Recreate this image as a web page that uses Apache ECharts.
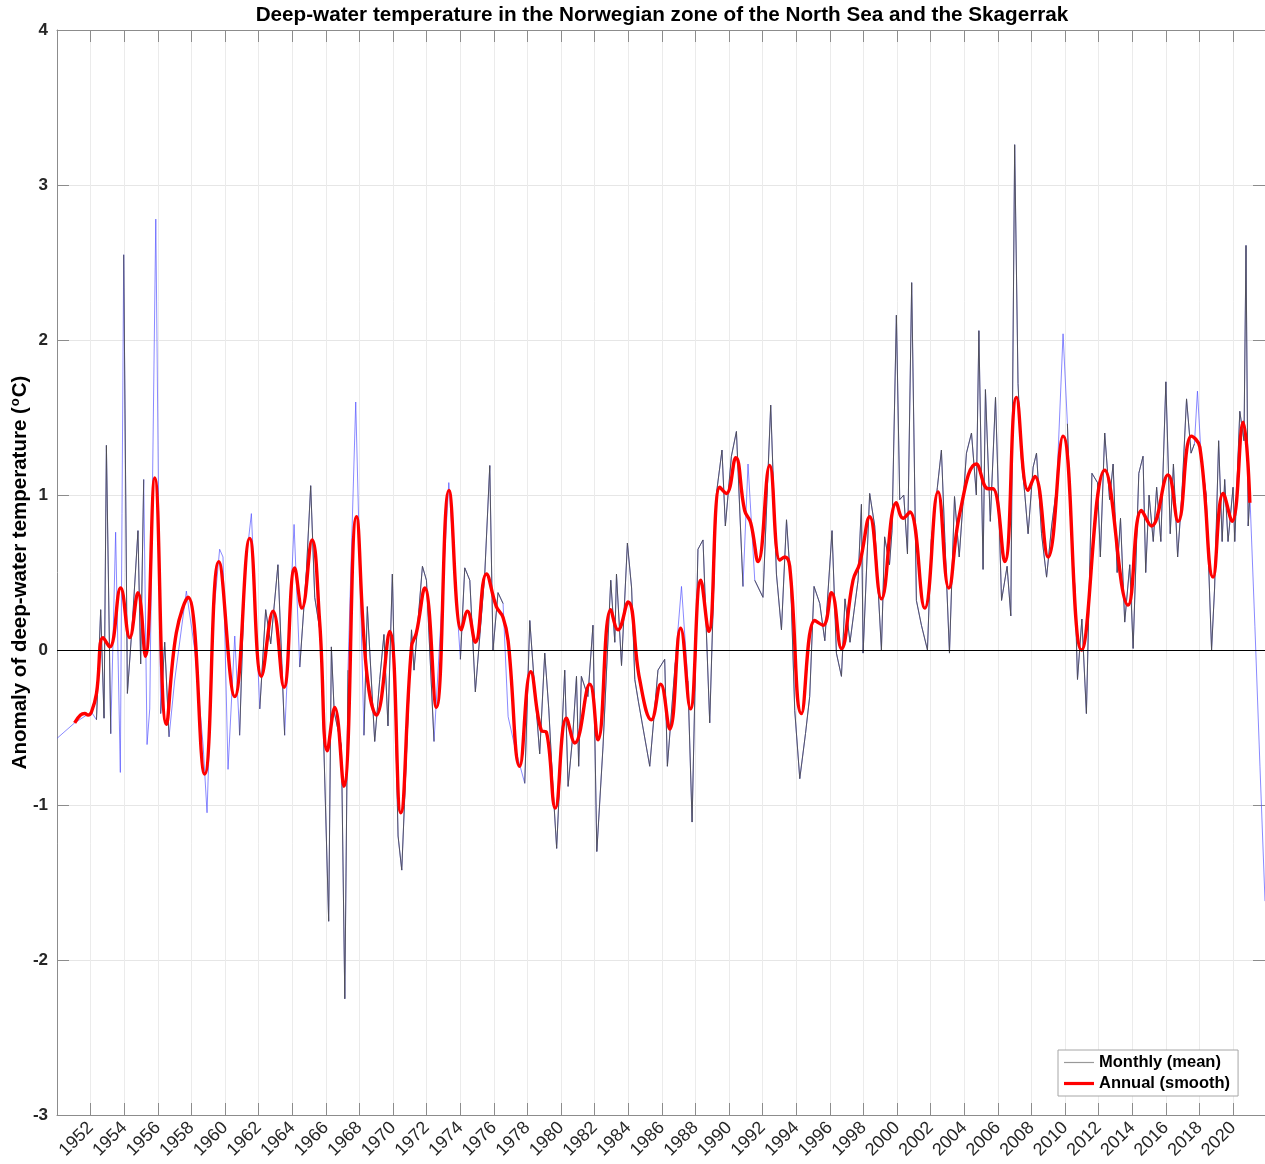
<!DOCTYPE html>
<html>
<head>
<meta charset="utf-8">
<title>Deep-water temperature</title>
<script src="https://cdn.jsdelivr.net/npm/echarts@6.0.0/dist/echarts.min.js"></script>
<style>
  html, body { margin: 0; padding: 0; background: #fff; }
  #graph { width: 1265px; height: 1164px; }
</style>
</head>
<body>
<div id="graph"></div>
<script>
// annual (smooth) anomaly
const annualYears = [
  1951.05, 1951.4, 1951.65, 1951.85, 1952.05, 1952.35, 1952.74, 1953.14, 1953.79, 1954.33,
  1954.82, 1955.26, 1955.82, 1956.51, 1957.1, 1957.8, 1958.79, 1959.63, 1960.58, 1961.47,
  1962.17, 1962.86, 1963.51, 1964.15, 1964.58, 1965.18, 1965.64, 1966.09, 1966.53, 1967.07,
  1967.82, 1968.42, 1969.01, 1969.8, 1970.46, 1971.1, 1971.39, 1971.89, 1972.58, 1973.33,
  1974.07, 1974.43, 1974.9, 1975.56, 1976.15, 1976.55, 1976.85, 1977.54, 1978.2, 1978.83,
  1979.13, 1979.66, 1980.32, 1980.82, 1981.71, 1982.2, 1982.96, 1983.39, 1983.99, 1984.68,
  1985.38, 1985.93, 1986.47, 1987.12, 1987.7, 1988.32, 1988.79, 1989.45, 1989.84, 1990.4,
  1990.93, 1991.29, 1991.73, 1992.42, 1993.02, 1993.32, 1993.61, 1994.31, 1995.1, 1995.6,
  1996.1, 1996.69, 1997.38, 1997.78, 1998.37, 1999.07, 1999.96, 2000.36, 2000.76, 2001.65,
  2002.44, 2003.08, 2003.73, 2004.72, 2005.42, 2005.71, 2006.41, 2007.11, 2007.8, 2008.2,
  2008.99, 2009.88, 2010.98, 2012.36, 2013.75, 2014.55, 2015.14, 2016.13, 2016.73, 2017.52,
  2018.02, 2018.81, 2019.41, 2019.94, 2020.6, 2021.0
];
const annualValues = [
  -0.47, -0.42, -0.41, -0.42, -0.40, -0.28, 0.08, 0.02, 0.40, 0.08,
  0.37, -0.04, 1.11, -0.48, 0.11, 0.34, -0.80, 0.57, -0.30, 0.72,
  -0.17, 0.25, -0.24, 0.53, 0.27, 0.71, 0.17, -0.65, -0.37, -0.88,
  0.86, -0.13, -0.42, 0.12, -1.05, 0.02, 0.11, 0.40, -0.37, 1.03,
  0.13, 0.25, 0.05, 0.49, 0.28, 0.21, 0.06, -0.75, -0.14, -0.52,
  -0.53, -1.02, -0.44, -0.60, -0.22, -0.58, 0.26, 0.13, 0.31, -0.19,
  -0.45, -0.22, -0.51, 0.14, -0.38, 0.45, 0.12, 1.05, 1.01, 1.24,
  0.90, 0.82, 0.57, 1.19, 0.58, 0.60, 0.54, -0.41, 0.19, 0.16,
  0.37, 0.01, 0.45, 0.56, 0.86, 0.33, 0.95, 0.85, 0.89, 0.27,
  1.02, 0.40, 0.88, 1.20, 1.04, 1.04, 0.57, 1.63, 1.03, 1.12,
  0.60, 1.38, 0.00, 1.16, 0.29, 0.90, 0.80, 1.13, 0.83, 1.38,
  1.31, 0.47, 1.01, 0.83, 1.47, 0.95
];

// monthly (mean) anomaly, peaks and troughs
const monthlyYears = [
  1950.0, 1951.05, 1952.05, 1952.35, 1952.6, 1952.8, 1952.94, 1953.2, 1953.49, 1953.77,
  1953.97, 1954.19, 1954.5, 1954.82, 1954.98, 1955.16, 1955.36, 1955.52, 1955.88, 1956.17,
  1956.41, 1956.67, 1957.0, 1957.7, 1958.2, 1958.7, 1958.93, 1959.3, 1959.68, 1959.88,
  1960.18, 1960.58, 1960.87, 1961.17, 1961.57, 1962.07, 1962.42, 1962.72, 1963.15, 1963.55,
  1964.11, 1964.45, 1964.85, 1965.1, 1965.34, 1965.7, 1966.17, 1966.33, 1966.5, 1966.93,
  1967.13, 1967.32, 1967.78, 1968.27, 1968.47, 1968.91, 1969.21, 1969.46, 1969.7, 1969.96,
  1970.3, 1970.52, 1970.9, 1971.1, 1971.25, 1971.75, 1971.99, 1972.44, 1973.32, 1974.01,
  1974.27, 1974.57, 1974.9, 1975.46, 1975.76, 1975.95, 1976.25, 1976.55, 1976.85, 1977.24,
  1977.84, 1978.14, 1978.4, 1978.73, 1979.03, 1979.27, 1979.5, 1979.74, 1980.22, 1980.42,
  1980.7, 1980.92, 1981.05, 1981.21, 1981.6, 1981.9, 1982.13, 1982.5, 1982.96, 1983.2,
  1983.3, 1983.6, 1983.95, 1984.2, 1984.39, 1984.6, 1985.28, 1985.77, 1986.17, 1986.33,
  1986.8, 1987.17, 1987.55, 1987.8, 1988.15, 1988.45, 1988.85, 1989.25, 1989.58, 1989.78,
  1990.14, 1990.44, 1990.83, 1991.13, 1991.53, 1992.02, 1992.48, 1992.82, 1993.12, 1993.42,
  1993.67, 1993.91, 1994.21, 1994.55, 1994.8, 1995.06, 1995.4, 1995.7, 1996.13, 1996.39,
  1996.69, 1996.9, 1997.2, 1997.68, 1997.88, 1997.98, 1998.37, 1998.67, 1999.07, 1999.26,
  1999.55, 1999.7, 1999.96, 2000.16, 2000.4, 2000.62, 2000.87, 2001.15, 2001.45, 2001.81,
  2002.04, 2002.4, 2002.64, 2002.85, 2003.12, 2003.42, 2003.7, 2004.13, 2004.43, 2004.72,
  2004.87, 2005.12, 2005.26, 2005.55, 2005.86, 2006.22, 2006.55, 2006.77, 2007.0, 2007.2,
  2007.4, 2007.6, 2007.8, 2008.1, 2008.3, 2008.6, 2008.9, 2009.2, 2009.5, 2009.88,
  2010.14, 2010.3, 2010.59, 2010.74, 2011.0, 2011.27, 2011.4, 2011.6, 2011.93, 2012.1,
  2012.36, 2012.65, 2012.86, 2013.1, 2013.3, 2013.55, 2013.85, 2014.05, 2014.39, 2014.64,
  2014.8, 2015.0, 2015.25, 2015.45, 2015.7, 2016.0, 2016.26, 2016.45, 2016.7, 2016.95,
  2017.23, 2017.5, 2017.7, 2017.88, 2018.1, 2018.4, 2018.72, 2018.9, 2019.14, 2019.35,
  2019.5, 2019.7, 2020.0, 2020.1, 2020.4, 2020.65, 2020.77, 2020.9, 2021.0, 2021.3,
  2021.6, 2021.9
];
const monthlyValues = [
  -0.57, -0.47, -0.40, -0.45, 0.26, -0.44, 1.32, -0.54, 0.76, -0.79,
  2.55, -0.28, 0.20, 0.77, -0.09, 1.10, -0.61, -0.38, 2.78, -0.41,
  0.05, -0.56, -0.20, 0.38, 0.00, -0.62, -1.05, 0.20, 0.65, 0.60,
  -0.77, 0.09, -0.55, 0.49, 0.88, -0.38, 0.26, 0.04, 0.55, -0.55,
  0.81, -0.11, 0.52, 1.06, 0.34, 0.09, -1.75, 0.02, -0.40, -0.62,
  -2.25, -0.13, 1.60, -0.55, 0.28, -0.59, -0.19, 0.10, -0.49, 0.49,
  -1.20, -1.42, -0.41, 0.13, -0.13, 0.54, 0.45, -0.59, 1.08, -0.06,
  0.53, 0.45, -0.27, 0.49, 1.19, 0.00, 0.37, 0.30, -0.43, -0.62,
  -0.86, 0.19, -0.20, -0.67, -0.02, -0.38, -0.85, -1.28, -0.13, -0.88,
  -0.55, -0.17, -0.75, -0.17, -0.30, 0.16, -1.30, -0.62, 0.45, 0.05,
  0.49, -0.10, 0.69, 0.40, -0.19, -0.33, -0.75, -0.13, -0.06, -0.75,
  -0.08, 0.41, -0.20, -1.11, 0.65, 0.71, -0.47, 1.01, 1.29, 0.80,
  1.25, 1.41, 0.41, 1.20, 0.45, 0.34, 1.58, 0.49, 0.13, 0.84,
  0.43, -0.39, -0.83, -0.54, -0.30, 0.41, 0.30, 0.06, 0.77, -0.02,
  -0.17, 0.33, 0.05, 0.45, 0.94, -0.02, 1.01, 0.80, 0.00, 0.73,
  0.55, 0.77, 2.16, 0.97, 1.00, 0.62, 2.37, 0.32, 0.16, 0.00,
  0.71, 1.05, 1.29, 0.70, -0.02, 0.99, 0.60, 1.27, 1.40, 1.00,
  2.06, 0.52, 1.68, 0.83, 1.63, 0.32, 0.54, 0.22, 3.26, 1.72,
  1.23, 1.01, 0.75, 1.18, 1.27, 0.75, 0.47, 0.80, 1.05, 2.04,
  1.46, 0.90, 0.39, -0.19, 0.20, -0.41, 0.20, 1.14, 1.08, 0.60,
  1.40, 0.97, 1.20, 0.50, 0.85, 0.18, 0.55, 0.01, 1.14, 1.25,
  0.50, 1.00, 0.70, 1.05, 0.70, 1.73, 0.75, 1.20, 0.60, 1.00,
  1.62, 1.27, 1.33, 1.67, 1.25, 1.00, 0.00, 0.40, 1.35, 0.70,
  1.10, 0.70, 1.05, 0.70, 1.54, 1.35, 2.61, 0.80, 1.00, 0.15,
  -0.75, -1.62
];

// stretches where only the blue interpolated line shows (no monthly mean)
const gapSpans = [
  [1949, 1952.3], [1953.4, 1953.85], [1955.3, 1956.0], [1956.9, 1958.75],
  [1959.3, 1959.95], [1960.5, 1960.6], [1961.5, 1961.6], [1964.0, 1964.2],
  [1967.7, 1967.85], [1973.25, 1973.4], [1976.8, 1977.3], [1987.1, 1987.25],
  [1991.0, 1991.2], [2009.8, 2009.95], [2017.8, 2017.95], [2021.1, 2022]
];

const xMin = 1950, xMax = 2021.9;

function inGap(t) {
  return gapSpans.some(s => t >= s[0] && t <= s[1]);
}

const interpData = monthlyYears.map((t, i) => [t, monthlyValues[i]]);
const monthlyData = monthlyYears.map((t, i) => inGap(t) ? [t, '-'] : [t, monthlyValues[i]]);
const annualData = annualYears.map((t, i) => [t, annualValues[i]]);

const font = 'Liberation Sans, Arial, sans-serif';
const axisGray = '#8c8c8c';

let myChart = echarts.init(document.getElementById('graph'));
myChart.setOption({
  animation: false,
  backgroundColor: '#fff',
  title: {
    text: 'Deep-water temperature in the Norwegian zone of the North Sea and the Skagerrak',
    left: 662,
    textAlign: 'center',
    top: 0,
    padding: [5, 0, 0, 0],
    textStyle: {
      fontFamily: font,
      fontSize: 20.7,
      fontWeight: 'bold',
      color: '#000'
    }
  },
  legend: {
    data: [
      {name: 'Monthly (mean)', icon: 'path://M0,0L0,0M0,5.4L30,5.4L30,6.6L0,6.6ZM30,12L30,12'},
      {name: 'Annual (smooth)', icon: 'path://M0,0L0,0M0,4.4L30,4.4L30,7.6L0,7.6ZM30,12L30,12'}
    ],
    orient: 'vertical',
    left: 1058,
    top: 1050,
    padding: [4, 8, 4, 6],
    itemGap: 4,
    itemWidth: 30,
    itemHeight: 12,
    backgroundColor: '#fff',
    borderColor: '#a6a6a6',
    borderWidth: 1,
    textStyle: {
      fontFamily: font,
      fontSize: 16.5,
      fontWeight: 'bold',
      color: '#000'
    }
  },
  grid: {
    left: 57,
    right: 0,
    top: 30,
    bottom: 49,
    outerBoundsMode: 'none',
    containLabel: false
  },
  xAxis: [
    {
      type: 'value',
      position: 'bottom',
      min: xMin,
      max: xMax,
      interval: 2,
      axisLine: {show: true, onZero: false, lineStyle: {color: axisGray}},
      axisTick: {show: true, inside: true, length: 12, lineStyle: {color: axisGray}},
      axisLabel: {
        rotate: 45,
        margin: 10,
        fontFamily: font,
        fontSize: 18,
        color: '#262626',
        formatter: function (v) {
          return (v > xMin && v <= 2020) ? String(v) : '';
        }
      },
      splitLine: {show: true, lineStyle: {color: '#ebebeb'}}
    },
    {
      type: 'value',
      position: 'top',
      min: xMin,
      max: xMax,
      interval: 2,
      axisLine: {show: true, onZero: false, lineStyle: {color: axisGray}},
      axisTick: {show: true, inside: true, length: 12, lineStyle: {color: axisGray}},
      axisLabel: {show: false},
      splitLine: {show: false}
    }
  ],
  yAxis: [
    {
      type: 'value',
      position: 'left',
      min: -3,
      max: 4,
      interval: 1,
      name: '{t|Anomaly of deep-water temperature (}{s|o}{t|C)}',
      nameLocation: 'middle',
      nameRotate: 90,
      nameGap: 26,
      nameMoveOverlap: false,
      nameTextStyle: {
        rich: {
          t: {fontFamily: font, fontSize: 20.5, fontWeight: 'bold', color: '#000', lineHeight: 22, verticalAlign: 'bottom'},
          s: {fontFamily: font, fontSize: 13, fontWeight: 'bold', color: '#000', lineHeight: 22, verticalAlign: 'top', padding: [0, 1, 9, 1]}
        }
      },
      axisLine: {show: true, onZero: false, lineStyle: {color: axisGray}},
      axisTick: {show: true, inside: true, length: 12, lineStyle: {color: axisGray}},
      axisLabel: {
        margin: 9,
        fontFamily: font,
        fontSize: 17,
        fontWeight: 'bold',
        color: '#262626'
      },
      splitLine: {show: true, lineStyle: {color: '#e6e6e6'}}
    },
    {
      type: 'value',
      position: 'right',
      min: -3,
      max: 4,
      interval: 1,
      axisLine: {show: true, onZero: false, lineStyle: {color: axisGray}},
      axisTick: {show: true, inside: true, length: 12, lineStyle: {color: axisGray}},
      axisLabel: {show: false},
      splitLine: {show: false}
    }
  ],
  series: [
    {
      name: 'interp',
      type: 'line',
      data: interpData,
      symbol: 'none',
      silent: true,
      z: 2,
      lineStyle: {color: '#5050ff', width: 0.8, opacity: 0.85},
      markLine: {
        silent: true,
        symbol: 'none',
        label: {show: false},
        lineStyle: {color: '#000', width: 1.2, type: 'solid'},
        data: [{yAxis: 0}]
      }
    },
    {
      name: 'Monthly (mean)',
      type: 'line',
      data: monthlyData,
      symbol: 'none',
      connectNulls: false,
      z: 3,
      color: '#999999',
      lineStyle: {color: '#4d4d4d', width: 0.9}
    },
    {
      name: 'Annual (smooth)',
      type: 'line',
      data: annualData,
      symbol: 'none',
      smooth: 0.45,
      z: 4,
      color: '#ff0000',
      lineStyle: {color: '#ff0000', width: 3.4}
    }
  ]
});
</script>
</body>
</html>
